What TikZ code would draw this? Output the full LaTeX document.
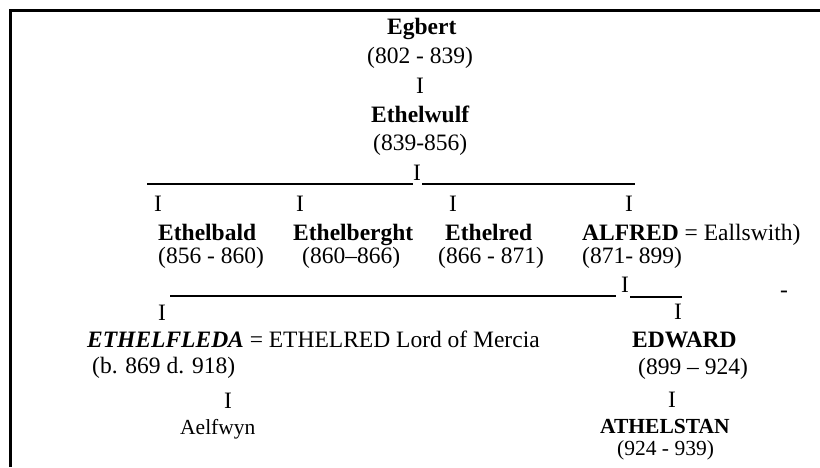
\documentclass[tikz,border=0pt]{standalone}
\usepackage{fontspec}
\setmainfont{Liberation Serif}
\begin{document}
\begin{tikzpicture}[x=1pt,y=-1pt,
  txt/.style={anchor=base west,inner sep=0pt,font=\fontsize{23.5}{28}\selectfont},
  small/.style={anchor=base west,inner sep=0pt,font=\fontsize{21.5}{26}\selectfont},
  bar/.style={line width=1.4pt},
  frame/.style={line width=3pt}]
\useasboundingbox (0,0) rectangle (820,467);
\coordinate (fa) at (10.5,467);
\coordinate (fb) at (10.5,10.5);
\coordinate (fc) at (820,10.5);
\draw[frame] (fa) -- (fb) -- (fc);

% generation 1
\node[txt] (egbert) at (387,34) {\textbf{Egbert}};
\node[txt] (egbertd) at (367,63) {(802 - 839)};
\node[txt] (i1) at (416,93) {I};
\node[txt] (ethelwulf) at (371,122) {\textbf{Ethelwulf}};
\node[txt] (ethelwulfd) at (373,150) {(839-856)};
\node[txt] (i2) at (413,180) {I};
\coordinate (l1a) at (147,184);
\coordinate (l1b) at (413,184);
\coordinate (l1c) at (422,184);
\coordinate (l1d) at (635,184);
\draw[bar] (l1a) -- (l1b);
\draw[bar] (l1c) -- (l1d);

% generation 3
\node[txt] (ia) at (154,211) {I};
\node[txt] (ib) at (296,211) {I};
\node[txt] (ic) at (449,211) {I};
\node[txt] (id) at (625,211) {I};
\node[txt] (ethelbald) at (158,240) {\textbf{Ethelbald}};
\node[txt] (ethelberght) at (293,240) {\textbf{Ethelberght}};
\node[txt] (ethelred) at (445,240) {\textbf{Ethelred}};
\node[txt] (alfred) at (582,240) {\textbf{ALFRED} = Eallswith)};
\node[txt] (ethelbaldd) at (158,263) {(856 - 860)};
\node[txt] (ethelberghtd) at (302,263) {(860–866)};
\node[txt] (ethelredd) at (438,263) {(866 - 871)};
\node[txt] (alfredd) at (582,263) {(871- 899)};

% line to children of Alfred
\node[txt] (i3) at (621,292) {I};
\coordinate (l2a) at (170,296);
\coordinate (l2b) at (616,296);
\coordinate (l2c) at (630,297);
\coordinate (l2d) at (682,297);
\draw[bar] (l2a) -- (l2b);
\draw[bar] (l2c) -- (l2d);
\node[txt] (dash) at (780,297) {-};

% generation 4
\node[txt] (ie) at (158,320) {I};
\node[txt] (if) at (674,319) {I};
\node[txt] (ethelfleda) at (87,347) {\textbf{\textit{ETHELFLEDA}} = ETHELRED Lord of Mercia};
\node[txt] (edward) at (632,347) {\textbf{EDWARD}};
\node[txt] (ethelfledad) at (92,373) {(b. 869 d. 918)};
\node[txt] (edwardd) at (638,374) {(899 – 924)};
\node[txt] (ig) at (224,408) {I};
\node[txt] (ih) at (668,407) {I};

% generation 5
\node[small] (aelfwyn) at (180,434) {Aelfwyn};
\node[small] (athelstan) at (600,433) {\textbf{ATHELSTAN}};
\node[small] (athelstand) at (617,455) {(924 - 939)};
\end{tikzpicture}
\end{document}
